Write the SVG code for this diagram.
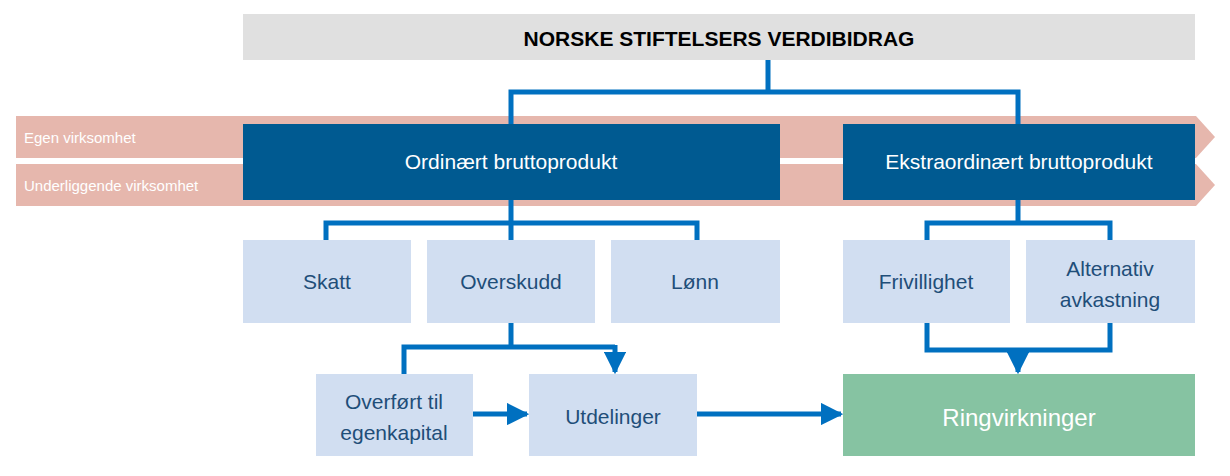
<svg xmlns="http://www.w3.org/2000/svg" width="1230" height="476" viewBox="0 0 1230 476">
<style>
text{font-family:"Liberation Sans",Arial,sans-serif}
.lb{fill:#D1DEF1}.lt{fill:#1F4E79;font-size:21px;text-anchor:middle}
.db{fill:#005A91}.dt{fill:#fff;font-size:21px;text-anchor:middle}
.c{fill:none;stroke:#0070C0;stroke-width:5}
.band{fill:#E6B7AD}.bt{fill:#fff;font-size:15px}
</style>
<defs><marker id="a" viewBox="0 0 10 10" refX="9" refY="5" markerWidth="4.5" markerHeight="4.5" orient="auto" markerUnits="strokeWidth"><path d="M0,0L10,5L0,10z" fill="#0070C0"/></marker></defs>
<g id="bands">
<path class="band" d="M16,116H1196L1215,137L1196,158H16z"/>
<path class="band" d="M16,164H1196L1215,185L1196,206H16z"/>
<text class="bt" x="24" y="143">Egen virksomhet</text>
<text class="bt" x="24" y="191">Underliggende virksomhet</text>
</g>
<g id="title"><rect x="243" y="14" width="952" height="46" fill="#E0E0E0"/><text x="719" y="46" font-size="21" font-weight="bold" text-anchor="middle" fill="#000">NORSKE STIFTELSERS VERDIBIDRAG</text></g>
<g id="ordinaert"><rect class="db" x="243" y="124" width="537" height="76"/><text class="dt" x="511" y="169">Ordinært bruttoprodukt</text></g>
<g id="ekstra"><rect class="db" x="843" y="124" width="352" height="76"/><text class="dt" x="1019" y="169">Ekstraordinært bruttoprodukt</text></g>
<g id="skatt"><rect class="lb" x="243" y="240" width="168" height="83"/><text class="lt" x="327" y="289">Skatt</text></g>
<g id="overskudd"><rect class="lb" x="427" y="240" width="168" height="83"/><text class="lt" x="511" y="289">Overskudd</text></g>
<g id="lonn"><rect class="lb" x="611" y="240" width="169" height="83"/><text class="lt" x="695" y="289">Lønn</text></g>
<g id="frivillighet"><rect class="lb" x="843" y="240" width="167" height="83"/><text class="lt" x="926" y="289">Frivillighet</text></g>
<g id="alternativ"><rect class="lb" x="1026" y="240" width="169" height="83"/><text class="lt" x="1110" y="276">Alternativ</text><text class="lt" x="1110" y="307">avkastning</text></g>
<g id="overfort"><rect class="lb" x="316" y="374" width="157" height="82"/><text class="lt" x="394" y="409">Overført til</text><text class="lt" x="394" y="440">egenkapital</text></g>
<g id="utdelinger"><rect class="lb" x="529" y="374" width="168" height="82"/><text class="lt" x="613" y="424">Utdelinger</text></g>
<g id="ringvirkninger"><rect x="843" y="374" width="352" height="82" fill="#86C3A2"/><text x="1019" y="426" font-size="24" fill="#fff" text-anchor="middle">Ringvirkninger</text></g>
<g id="connectors">
<path class="c" d="M768,60V92M511,124V92H1018V124"/>
<path class="c" d="M511,200V223M326,240V223H697V240M511,223V240"/>
<path class="c" d="M1018,200V223M927,240V223H1110V240"/>
<path class="c" d="M511,323V347M404,374V347H615"/>
<path class="c" d="M615,345V372" marker-end="url(#a)"/>
<path class="c" d="M927,323V350H1110V323"/>
<path class="c" d="M1018,348V372" marker-end="url(#a)"/>
<path class="c" d="M473,414H527" marker-end="url(#a)"/>
<path class="c" d="M697,414H841" marker-end="url(#a)"/>
</g>
</svg>
